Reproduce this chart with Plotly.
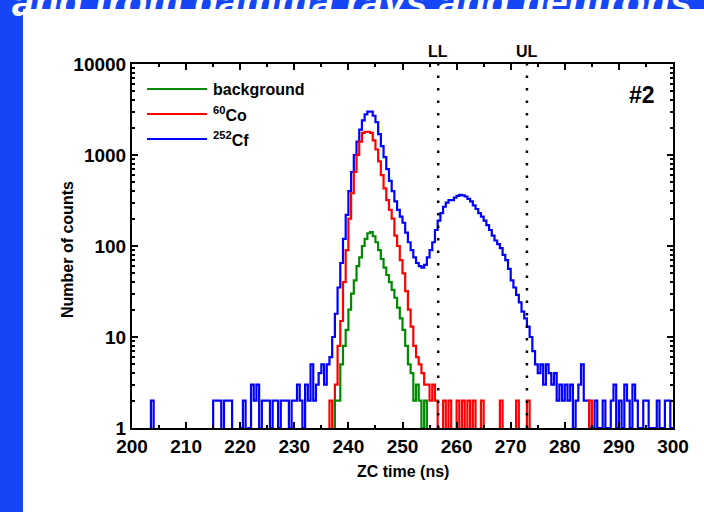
import plotly.graph_objects as go

# ---------------- data (histogram counts, 0.5 ns bins) ----------------
BIN = 0.5

cf252_start = 200.0
cf252_counts = [
    0, 0, 0, 0, 0, 0, 0, 2,                      # 200-203.5
    0, 0, 0, 0, 0, 0, 0, 0, 0, 0, 0,             # 204-209
    0, 0, 0, 0, 0, 0, 0, 0, 0, 0, 0,             # 209.5-214.5
    2, 2, 2, 0, 2, 2, 2, 0, 0, 0,                # 215-219.5
    1, 2, 0, 1, 3, 2, 3, 1, 2, 2,                # 220-224.5
    2, 1, 2, 2, 1, 2, 2, 2, 1, 2,                # 225-229.5
    2, 3, 2, 1, 3, 2, 5, 2, 3, 4,                # 230-234.5
    5, 3, 5, 6, 10, 18, 35, 65, 120, 220,        # 235-239.5
    400, 650, 1000, 1400, 1900, 2400, 2800, 3000, 3000, 2700,   # 240-244.5
    2300, 1700, 1250, 950, 700, 520, 400, 310, 250, 210,        # 245-249.5
    180, 140, 110, 90, 75, 65, 60, 58, 62, 75,                  # 250-254.5
    90, 110, 150, 190, 230, 270, 300, 320, 320, 340,            # 255-259.5
    355, 365, 360, 350, 330, 310, 280, 255, 230, 210,           # 260-264.5
    190, 170, 150, 130, 115, 105, 95, 80, 70, 56,               # 265-269.5
    42, 35, 29, 24, 19, 16, 13, 10, 7, 5,                       # 270-274.5
    4, 5, 3, 5, 4, 3, 4, 2, 3, 2,                               # 275-279.5
    3, 2, 3, 1, 2, 3, 5, 2, 2, 1,                               # 280-284.5
    1, 2, 1, 1, 2, 1, 1, 2, 3, 1,                               # 285-289.5
    2, 1, 3, 2, 1, 3, 2, 1, 1, 2,                               # 290-294.5
    2, 1, 1, 1, 2, 1, 1, 2, 2, 1,                               # 295-299.5
]

co60_start = 236.0
co60_counts = [
    0, 2, 0, 3, 8, 15, 40, 90, 200, 380,                        # 236-240.5
    650, 1000, 1400, 1750, 1800, 1800, 1750, 1450, 1150, 850,   # 241-245.5
    600, 430, 320, 250, 200, 130, 100, 70, 50, 32,              # 246-250.5
    20, 13, 8, 6, 5, 4, 3, 3, 2, 3,                             # 251-255.5
    2, 0, 0, 2, 0, 2, 0, 0, 2, 0,                               # 256-260.5
    2, 0, 2, 0, 2, 0, 0, 2, 0, 0,                               # 261-265.5
    0, 0, 0, 0, 2, 0, 0, 0, 0, 0,                               # 266-270.5
    2, 0, 0, 0, 2, 0, 0, 0, 0, 0,                               # 271-275.5
    0, 0, 0, 0, 0, 0, 0, 0, 0, 0,                               # 276-280.5
    0, 0, 0, 0, 0, 0, 0, 2, 0, 0,                               # 281-285.5
]

bkg_start = 237.0
bkg_counts = [
    0, 2, 2, 5, 8, 12, 20, 30, 42, 60,                          # 237-241.5
    75, 100, 120, 138, 142, 128, 110, 90, 72, 58,               # 242-246.5
    48, 40, 33, 27, 21, 16, 12, 8, 5, 4,                        # 247-251.5
    2, 3, 2, 1, 2, 0, 0, 0,                                     # 252-255.5
]

LL = 256.6
UL = 273.0

x_ticks = [200, 210, 220, 230, 240, 250, 260, 270, 280, 290, 300]
y_tickvals = [1, 10, 100, 1000, 10000]
y_ticktext = ["1", "10", "100", "1000", "10000"]

# ---------------- geometry helpers ----------------
W, H = 704, 512
L, R, T, B = 132, 673, 64, 428
PW, PH = R - L, B - T


def xp(px):
    return (px - L) / PW


def yp(py):
    return (B - py) / PH


def steps(start, counts):
    xs = [start + i * BIN for i in range(len(counts))] + [start + len(counts) * BIN]
    ys = [c if c > 0 else 0.3 for c in counts] + [counts[-1] if counts[-1] > 0 else 0.3]
    return xs, ys


FONT = "Liberation Sans, Arial, sans-serif"

fig = go.Figure()
for start, counts, color, name in [
    (cf252_start, cf252_counts, "#0000ff", "252Cf"),
    (co60_start, co60_counts, "#ff0000", "60Co"),
    (bkg_start, bkg_counts, "#008a00", "background"),
]:
    xs, ys = steps(start, counts)
    fig.add_trace(go.Scatter(x=xs, y=ys, mode="lines", line=dict(color=color, width=2.2, shape="hv"),
                             name=name, showlegend=False, hoverinfo="skip"))

# LL / UL dotted lines
for xv in (LL, UL):
    fig.add_shape(type="line", xref="x", yref="paper", x0=xv, x1=xv, y0=0, y1=1,
                  line=dict(color="black", width=2.5, dash="2.5px,10px"))

shapes = [
    # left blue band
    dict(type="rect", xref="paper", yref="paper", x0=xp(0), x1=xp(23), y0=yp(H), y1=yp(0),
         fillcolor="#1446f5", line=dict(width=0), layer="above"),
    # top blue band
    dict(type="rect", xref="paper", yref="paper", x0=xp(0), x1=xp(W), y0=yp(9), y1=yp(0),
         fillcolor="#1446f5", line=dict(width=0), layer="above"),
]
for s in shapes:
    fig.add_shape(**s)


def ann(x, y, text, size, xanchor="center", yanchor="middle", xref="paper", **kw):
    return dict(xref=xref, yref="paper", x=x, y=y, text=text, showarrow=False,
                xanchor=xanchor, yanchor=yanchor,
                font=dict(size=size, color=kw.pop("color", "black"), family=FONT), **kw)


annotations = []
# manual legend
leg = [("background", "#008a00", 89), ("<sup>60</sup>Co", "#ff0000", 114), ("<sup>252</sup>Cf", "#0000ff", 139)]
for text, color, py in leg:
    fig.add_shape(type="line", xref="paper", yref="paper", x0=xp(147), x1=xp(207), y0=yp(py), y1=yp(py),
                  line=dict(color=color, width=2.2))
    annotations.append(ann(xp(211), yp(py), f"<b>{text}</b>", 16, xanchor="left"))

annotations += [
    ann(LL, yp(52), "<b>LL</b>", 16, xref="x"),
    ann(UL, yp(52), "<b>UL</b>", 16, xref="x"),
    ann(xp(642), yp(95), "<b>#2</b>", 23),
    ann(xp(403), yp(471), "<b>ZC time (ns)</b>", 16),
    ann(xp(67), yp(250), "<b>Number of counts</b>", 16, textangle=-90),
    ann(xp(352), yp(26), "<b><i>and from gamma rays and neutrons</i></b>", 40, yanchor="bottom",
        color="white"),
]

fig.update_layout(
    width=W, height=H,
    margin=dict(l=L, r=W - R, t=T, b=H - B),
    paper_bgcolor="white", plot_bgcolor="white",
    annotations=annotations,
    showlegend=False,
    font=dict(family=FONT, color="black"),
)

fig.update_xaxes(range=[200, 300], tickvals=x_ticks, ticks="inside", ticklen=6, tickwidth=2,
                 tickcolor="black", showline=True, linewidth=2, linecolor="black", mirror="ticks",
                 showgrid=False, zeroline=False,
                 tickfont=dict(size=19, family=FONT, color="black", weight="bold"),
                 minor=dict(dtick=5, ticks="inside", ticklen=3, tickwidth=1.5, tickcolor="black"))
fig.update_yaxes(type="log", range=[0, 4], tickvals=y_tickvals, ticktext=y_ticktext, ticks="inside",
                 ticklen=6, tickwidth=2, tickcolor="black", showline=True, linewidth=2, linecolor="black",
                 mirror="ticks", showgrid=False, zeroline=False,
                 tickfont=dict(size=19, family=FONT, color="black", weight="bold"),
                 minor=dict(ticks="inside", ticklen=3, tickwidth=1.5, tickcolor="black", dtick="D1"))

fig.write_html("out.html")
